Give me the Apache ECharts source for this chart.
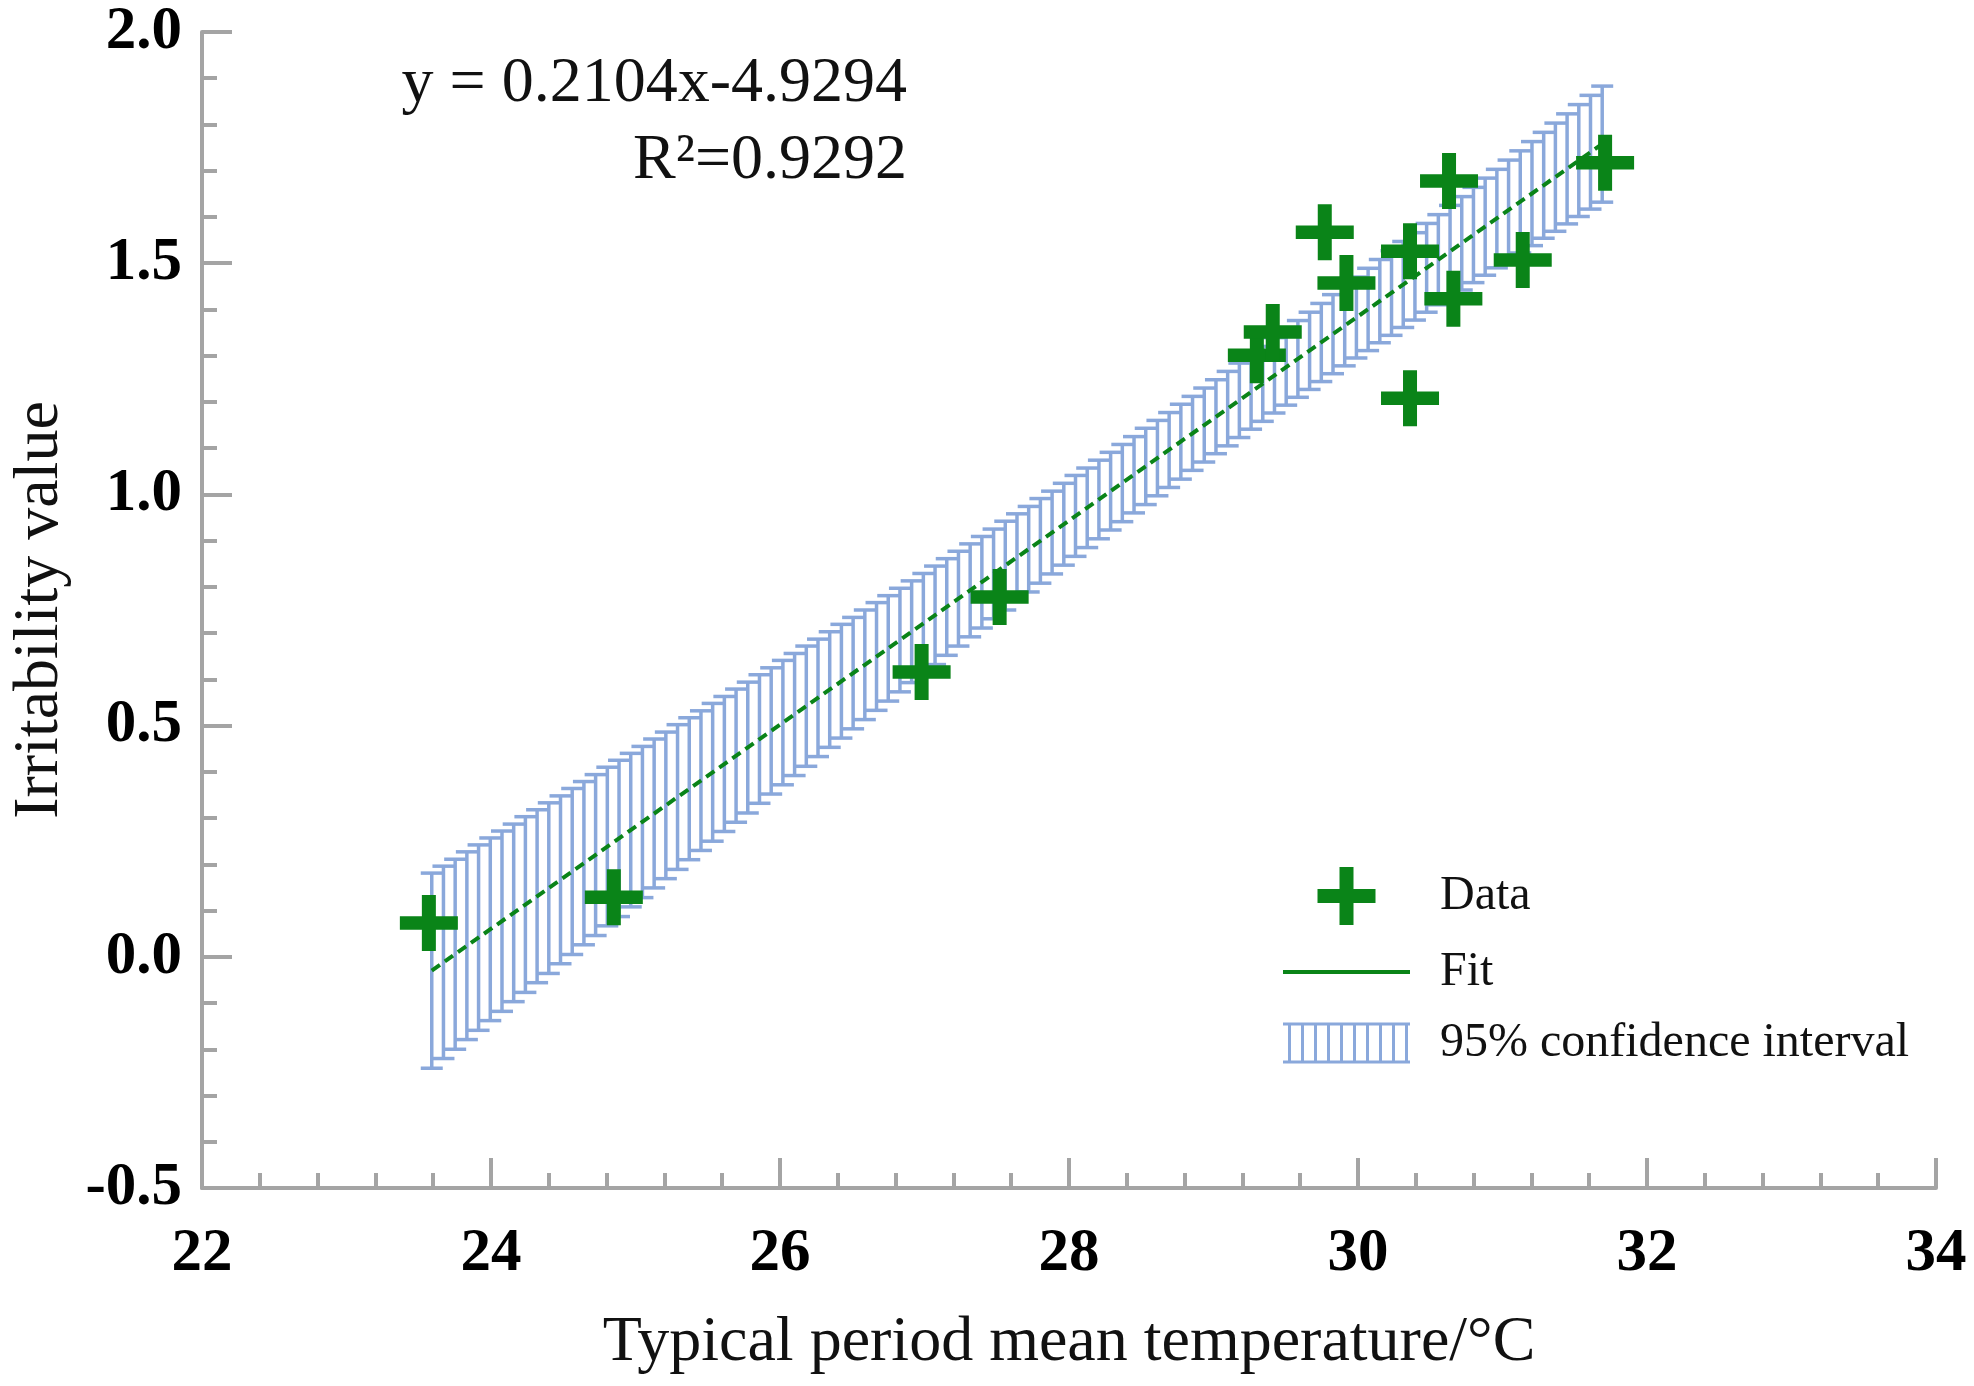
<!DOCTYPE html>
<html lang="en">
<head>
    <meta charset="UTF-8">
    <title>Irritability value vs temperature</title>
    <script src="https://cdn.jsdelivr.net/npm/echarts@6/dist/echarts.min.js"></script>
    <style>
        html, body { margin: 0; padding: 0; background: #fff; }
    </style>
</head>
<body>
<div id="main" style="width: 1974px;height: 1386px"></div>
<script type="text/javascript">
    // measured points
    var dataX = [23.57, 24.85, 26.98, 27.52, 29.30, 29.41, 29.77, 29.92, 30.36, 30.36, 30.63, 30.66, 31.14, 31.71];
    var dataY = [0.073, 0.129, 0.616, 0.778, 1.301, 1.351, 1.567, 1.457, 1.208, 1.526, 1.678, 1.423, 1.507, 1.717];

    // fitted line end points
    var fitX = [23.59, 31.69];
    var fitY = [-0.030, 1.758];

    // 95% confidence interval bars
    var ciX = [
        23.590, 23.671, 23.752, 23.833, 23.914, 23.995, 24.076, 24.157, 24.238, 24.319,
        24.400, 24.481, 24.562, 24.643, 24.724, 24.805, 24.886, 24.967, 25.048, 25.129,
        25.210, 25.291, 25.372, 25.453, 25.534, 25.615, 25.696, 25.777, 25.858, 25.939,
        26.020, 26.101, 26.182, 26.263, 26.344, 26.425, 26.506, 26.587, 26.668, 26.749,
        26.830, 26.911, 26.992, 27.073, 27.154, 27.235, 27.316, 27.397, 27.478, 27.559,
        27.640, 27.721, 27.802, 27.883, 27.964, 28.045, 28.126, 28.207, 28.288, 28.369,
        28.450, 28.531, 28.612, 28.693, 28.774, 28.855, 28.936, 29.017, 29.098, 29.179,
        29.260, 29.341, 29.422, 29.503, 29.584, 29.665, 29.746, 29.827, 29.908, 29.989,
        30.070, 30.151, 30.232, 30.313, 30.394, 30.475, 30.556, 30.637, 30.718, 30.799,
        30.880, 30.961, 31.042, 31.123, 31.204, 31.285, 31.366, 31.447, 31.528, 31.609,
        31.690
    ];
    var ciLow = [
        -0.241, -0.220, -0.200, -0.179, -0.159, -0.138, -0.118, -0.097, -0.077, -0.056,
        -0.036, -0.015, 0.005, 0.026, 0.046, 0.067, 0.087, 0.108, 0.128, 0.149,
        0.169, 0.189, 0.210, 0.230, 0.250, 0.271, 0.291, 0.311, 0.332, 0.352,
        0.372, 0.392, 0.412, 0.433, 0.453, 0.473, 0.493, 0.513, 0.533, 0.553,
        0.573, 0.593, 0.613, 0.632, 0.652, 0.672, 0.692, 0.711, 0.731, 0.750,
        0.770, 0.789, 0.808, 0.828, 0.847, 0.866, 0.885, 0.904, 0.923, 0.941,
        0.960, 0.978, 0.997, 1.015, 1.033, 1.052, 1.070, 1.088, 1.105, 1.123,
        1.141, 1.158, 1.176, 1.193, 1.210, 1.227, 1.244, 1.261, 1.278, 1.295,
        1.311, 1.328, 1.344, 1.361, 1.377, 1.394, 1.410, 1.426, 1.442, 1.458,
        1.474, 1.490, 1.506, 1.522, 1.538, 1.554, 1.569, 1.585, 1.601, 1.617,
        1.632
    ];
    var ciHigh = [
        0.181, 0.196, 0.211, 0.227, 0.242, 0.257, 0.272, 0.287, 0.303, 0.318,
        0.333, 0.348, 0.364, 0.379, 0.394, 0.410, 0.425, 0.440, 0.455, 0.471,
        0.486, 0.502, 0.517, 0.532, 0.548, 0.563, 0.579, 0.594, 0.610, 0.625,
        0.641, 0.656, 0.672, 0.687, 0.703, 0.719, 0.734, 0.750, 0.766, 0.781,
        0.797, 0.813, 0.829, 0.845, 0.861, 0.877, 0.893, 0.909, 0.925, 0.942,
        0.958, 0.974, 0.991, 1.007, 1.024, 1.041, 1.057, 1.074, 1.091, 1.108,
        1.125, 1.143, 1.160, 1.177, 1.195, 1.212, 1.230, 1.248, 1.266, 1.284,
        1.302, 1.320, 1.339, 1.357, 1.376, 1.394, 1.413, 1.432, 1.451, 1.470,
        1.489, 1.508, 1.527, 1.547, 1.566, 1.586, 1.605, 1.625, 1.644, 1.664,
        1.684, 1.703, 1.723, 1.743, 1.763, 1.783, 1.803, 1.823, 1.843, 1.863,
        1.883
    ];

    var xTicks = { min: 22, max: 34, interval: 2 };
    var yTicks = { min: -0.5, max: 2.0, interval: 0.5 };

    var GREEN = '#0a8418';
    var BLUE = '#8aa8db';
    var GRAY = '#a4a4a4';
    var FONT = '"Liberation Serif", "Times New Roman", serif';

    var plusPath = 'path://M22,0H36V22H58V36H36V58H22V36H0V22H22Z';
    var linePath = 'path://M0,0H127V4H0Z';
    // hatch icon for the confidence band
    var ciPath = 'path://M0,0H127V3H0Z M0,38H127V41H0Z' +
        ' M5,3H8V38H5Z M18,3H21V38H18Z M31,3H34V38H31Z M44,3H47V38H44Z M57,3H60V38H57Z' +
        ' M70,3H73V38H70Z M83,3H86V38H83Z M96,3H99V38H96Z M109,3H112V38H109Z M122,3H125V38H122Z';

    var myChart = echarts.init(document.getElementById('main'));

    var scatterData = dataX.map(function (x, i) { return [x, dataY[i]]; });
    var fitData = fitX.map(function (x, i) { return [x, fitY[i]]; });
    var ciData = ciX.map(function (x, i) { return [x, ciLow[i], ciHigh[i]]; });

    function axisCommon() {
        return {
            type: 'value',
            axisLine: { show: true, onZero: false, lineStyle: { color: GRAY, width: 4 } },
            axisTick: { show: true, inside: true, length: 30, lineStyle: { color: GRAY, width: 4 } },
            minorTick: { show: true, splitNumber: 5, length: 15, lineStyle: { color: GRAY, width: 4 } },
            splitLine: { show: false },
            nameLocation: 'middle',
            nameTextStyle: { fontFamily: FONT, fontSize: 64, color: '#111' }
        };
    }

    var xAxis = axisCommon();
    xAxis.min = xTicks.min;
    xAxis.max = xTicks.max;
    xAxis.interval = xTicks.interval;
    xAxis.name = 'Typical period mean temperature/\u00B0C';
    xAxis.nameGap = 123;
    xAxis.axisLabel = {
        margin: 36, fontFamily: FONT, fontSize: 61, fontWeight: 'bold', color: '#000',
        showMinLabel: true, showMaxLabel: true
    };

    var yAxis = axisCommon();
    yAxis.min = yTicks.min;
    yAxis.max = yTicks.max;
    yAxis.interval = yTicks.interval;
    yAxis.name = 'Irritability value';
    yAxis.nameGap = 130;
    yAxis.axisLabel = {
        margin: 20, fontFamily: FONT, fontSize: 61, fontWeight: 'bold', color: '#000',
        showMinLabel: true, showMaxLabel: true,
        formatter: function (v) { return v.toFixed(1); }
    };

    var option = {
        animation: false,
        backgroundColor: '#fff',
        grid: { left: 197, top: 32, width: 1739, height: 1156, containLabel: false },
        xAxis: xAxis,
        yAxis: yAxis,
        legend: {
            orient: 'vertical',
            left: 1283,
            top: 867,
            padding: 0,
            itemWidth: 127,
            itemHeight: 58,
            itemGap: 23,
            textStyle: { fontFamily: FONT, fontSize: 48, color: '#111', padding: [0, 0, 0, 25] },
            data: [
                { name: 'Data', icon: plusPath, itemStyle: { color: GREEN, borderWidth: 0 } },
                { name: 'Fit', icon: linePath, itemStyle: { color: GREEN, borderWidth: 0 } },
                { name: '95% confidence interval', icon: ciPath, itemStyle: { color: BLUE, borderWidth: 0 } }
            ]
        },
        graphic: [
            {
                type: 'text', x: 907, y: 84,
                style: {
                    text: 'y = 0.2104x-4.9294', fill: '#111',
                    font: '64px ' + FONT, align: 'right', verticalAlign: 'middle'
                }
            },
            {
                type: 'text', x: 907, y: 161,
                style: {
                    text: 'R\u00B2=0.9292', fill: '#111',
                    font: '64px ' + FONT, align: 'right', verticalAlign: 'middle'
                }
            }
        ],
        series: [
            {
                name: '95% confidence interval',
                type: 'custom',
                z: 1,
                itemStyle: { color: BLUE },
                encode: { x: 0, y: [1, 2] },
                data: ciData,
                renderItem: function (params, api) {
                    var x = api.value(0);
                    var top = api.coord([x, api.value(2)]);
                    var bot = api.coord([x, api.value(1)]);
                    var half = 11;
                    var st = { stroke: BLUE, lineWidth: 3.5 };
                    return {
                        type: 'group',
                        children: [
                            { type: 'line', shape: { x1: top[0], y1: top[1], x2: bot[0], y2: bot[1] }, style: st },
                            { type: 'line', shape: { x1: top[0] - half, y1: top[1], x2: top[0] + half, y2: top[1] }, style: st },
                            { type: 'line', shape: { x1: bot[0] - half, y1: bot[1], x2: bot[0] + half, y2: bot[1] }, style: st }
                        ]
                    };
                }
            },
            {
                name: 'Fit',
                type: 'line',
                z: 3,
                symbol: 'none',
                itemStyle: { color: GREEN },
                lineStyle: { color: GREEN, width: 4, type: [10, 6] },
                data: fitData
            },
            {
                name: 'Data',
                type: 'scatter',
                z: 4,
                symbol: plusPath,
                symbolSize: [58, 56],
                itemStyle: { color: GREEN, opacity: 1 },
                data: scatterData
            }
        ]
    };

    myChart.setOption(option);
</script>
</body>
</html>
